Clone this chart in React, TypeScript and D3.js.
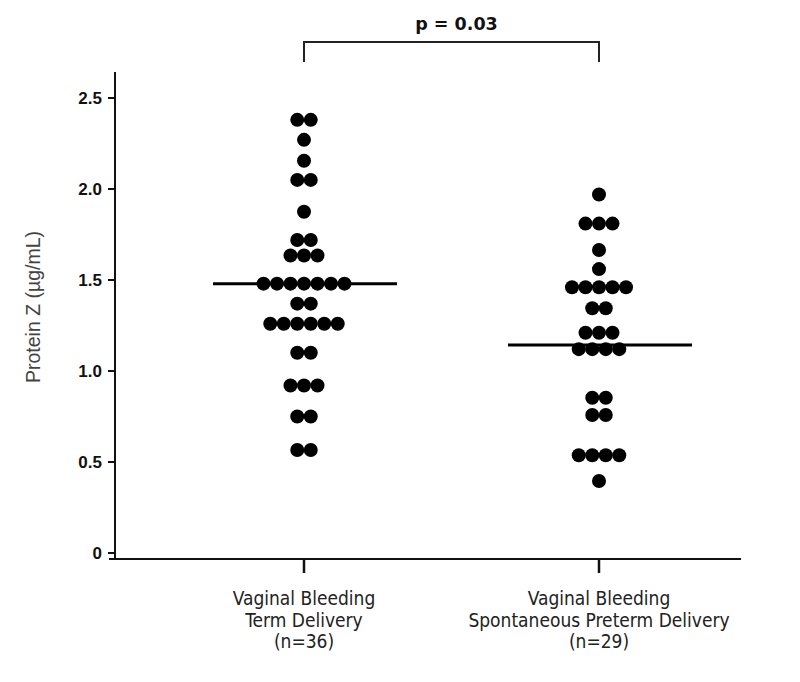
import React from 'react'
import * as d3 from 'd3'

const groups = ['Term', 'Preterm']
const groupLabels = [
  ['Vaginal Bleeding', 'Term Delivery', '(n=36)'],
  ['Vaginal Bleeding', 'Spontaneous Preterm Delivery', '(n=29)'],
]
const termValues = [
  2.38, 2.38, 2.27, 2.155, 2.05, 2.05, 1.875, 1.72, 1.72, 1.635, 1.635, 1.635,
  1.48, 1.48, 1.48, 1.48, 1.48, 1.48, 1.48, 1.37, 1.37,
  1.26, 1.26, 1.26, 1.26, 1.26, 1.26, 1.10, 1.10, 0.92, 0.92, 0.92,
  0.75, 0.75, 0.566, 0.566,
]
const pretermValues = [
  1.97, 1.81, 1.81, 1.81, 1.665, 1.56, 1.46, 1.46, 1.46, 1.46, 1.46,
  1.345, 1.345, 1.21, 1.21, 1.21, 1.12, 1.12, 1.12, 1.12,
  0.853, 0.853, 0.758, 0.758, 0.537, 0.537, 0.537, 0.537, 0.396,
]
const centerLines = [1.48, 1.143]
const yTicks = [0, 0.5, 1.0, 1.5, 2.0, 2.5]
const pLabel = 'p = 0.03'

const W = 800
const H = 682

export default function App() {
  const y = d3.scaleLinear().domain([0, 2.5]).range([553, 98])
  const x = d3.scalePoint().domain(groups).range([304, 599])
  const cx = (g: string) => x(g) as number
  const r = 7
  const step = 13.5

  // simple row swarm: equal values sit side by side around the group centre
  const swarm = (vals: number[], g: string) => {
    const rows = d3.group(vals, (v) => v)
    const pts: { x: number; y: number }[] = []
    rows.forEach((arr, v) => {
      arr.forEach((_, i) => {
        pts.push({ x: cx(g) + (i - (arr.length - 1) / 2) * step, y: y(v) })
      })
    })
    return pts
  }
  const series = [termValues, pretermValues]
  const labelFont = 'DejaVu Sans Condensed, DejaVu Sans'

  return (
    <svg width={W} height={H} style={{ position: 'absolute', left: 0, top: 0, background: '#fff' }}>
      {/* y axis */}
      <line x1={115} x2={115} y1={72} y2={560} stroke="#111" strokeWidth={2} />
      {yTicks.map((t) => (
        <g key={t}>
          <line x1={108} x2={115} y1={y(t)} y2={y(t)} stroke="#111" strokeWidth={2} />
          <text x={102} y={y(t)} dy="0.36em" textAnchor="end" fontFamily="Liberation Sans" fontWeight="bold" fontSize={17} fill="#111">
            {t === 0 ? '0' : d3.format('.1f')(t)}
          </text>
        </g>
      ))}
      <text transform={`translate(40,${307}) rotate(-90)`} textAnchor="middle" fontFamily="Liberation Sans" fontSize={19.5} fill="#444">
        Protein Z (µg/mL)
      </text>

      {/* x axis */}
      <line x1={109} x2={741} y1={559} y2={559} stroke="#111" strokeWidth={2} />
      {groups.map((g, gi) => (
        <g key={g}>
          <line x1={cx(g)} x2={cx(g)} y1={559} y2={573} stroke="#111" strokeWidth={2.5} />
          {groupLabels[gi].map((l, li) => (
            <text key={li} x={cx(g)} y={605 + li * 21.5} textAnchor="middle" fontFamily={labelFont} fontSize={19} fill="#222">
              {l}
            </text>
          ))}
        </g>
      ))}

      {/* dots */}
      {groups.map((g, gi) =>
        swarm(series[gi], g).map((p, i) => <circle key={g + i} cx={p.x} cy={p.y} r={r} fill="#000" />)
      )}

      {/* center lines */}
      {groups.map((g, gi) => (
        <line key={g} x1={cx(g) - 91} x2={cx(g) + 93} y1={y(centerLines[gi])} y2={y(centerLines[gi])} stroke="#000" strokeWidth={3} />
      ))}

      {/* significance bracket */}
      <path d={`M${cx(groups[0])},62 V42 H${cx(groups[1])} V62`} fill="none" stroke="#222" strokeWidth={2} />
      <text x={(cx(groups[0]) + cx(groups[1])) / 2 + 5} y={30} textAnchor="middle" fontFamily="DejaVu Sans" fontWeight="bold" fontSize={17.5} fill="#111">
        {pLabel}
      </text>
    </svg>
  )
}
